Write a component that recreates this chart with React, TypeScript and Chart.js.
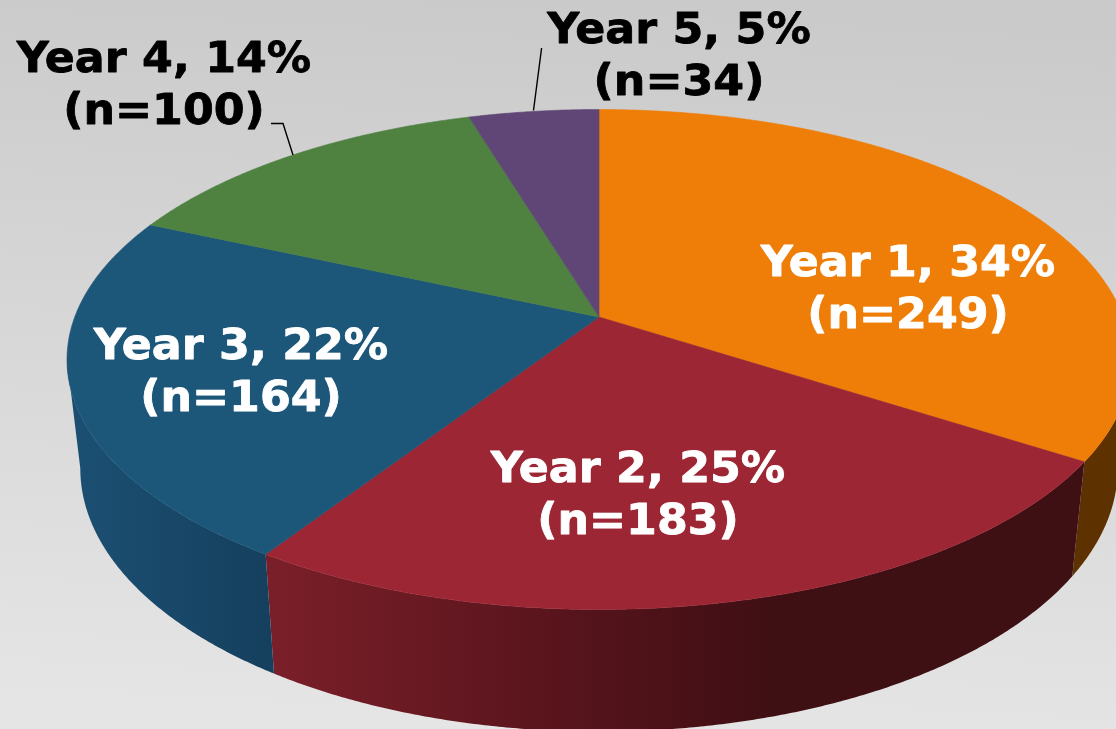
import React, { useEffect, useRef } from "react";
import { Chart, PieController, ArcElement } from "chart.js";

const categories = ["Year 1", "Year 2", "Year 3", "Year 4", "Year 5"];
const counts = [249, 183, 164, 100, 34];
const percents = [34, 25, 22, 14, 5];
const topColors = ["#ef7e08", "#9c2634", "#1c5779", "#4f8241", "#5f4676"];

const labelColors = ["#ffffff", "#ffffff", "#ffffff", "#000000", "#000000"];
const labelCenters = [
  [908, 275.5],
  [638, 482],
  [241, 359],
  [164, 72],
  [679, 43],
];
const wallStops: [number, string][][] = [
  [[1000, "#5e3100"], [1116, "#5e3100"]],
  [[273, "#7a1f29"], [560, "#58141c"], [780, "#3e0f13"], [1080, "#3e0f13"]],
  [[80, "#1b4f72"], [275, "#153f5d"]],
  [],
  [],
];

const W = 1116;
const H = 729;
const CX = 599;
const CY = 359.5;
const RX = 532;
const RY = 250;
const APEX = -0.17;
const LEFT_LIMIT = (260.2 * Math.PI) / 180;
const RIGHT_LIMIT = (99.8 * Math.PI) / 180;
const TEXT_STRETCH = 1.055;

// perspective projection of the pie's rim (theta clockwise from the top)
function rim(theta: number): [number, number] {
  const x = Math.sin(theta);
  const v = -Math.cos(theta);
  const d = 1 + APEX * v;
  const px = (x * Math.sqrt(1 - APEX * APEX)) / d;
  const py = (v + APEX) / d;
  return [CX + px * RX, CY + py * RY];
}
function apex(): [number, number] {
  return [CX, CY + APEX * RY];
}
function lower(p: [number, number]): [number, number] {
  return [CX + (p[0] - CX) * 0.975, p[1] + 114.3 + 0.0526 * (p[1] - 460)];
}
const toTheta = (a: number) => a + Math.PI / 2;

ArcElement.prototype.draw = function (ctx: CanvasRenderingContext2D) {
  const t0 = toTheta(this.startAngle);
  const t1 = toTheta(this.endAngle);
  const color = this.options.backgroundColor;
  ctx.save();
  ctx.beginPath();
  const a = apex();
  ctx.moveTo(a[0], a[1]);
  const n = Math.max(2, Math.ceil((t1 - t0) / 0.006));
  for (let i = 0; i <= n; i++) {
    const p = rim(t0 + ((t1 - t0) * i) / n);
    ctx.lineTo(p[0], p[1]);
  }
  ctx.closePath();
  ctx.fillStyle = color;
  ctx.fill();
  ctx.strokeStyle = color;
  ctx.lineWidth = 0.6;
  ctx.stroke();
  ctx.restore();
};

const pie3d = {
  id: "pie3d",
  beforeDraw(chart: Chart) {
    const ctx = chart.ctx;
    const g = ctx.createLinearGradient(580, 0, 540, H);
    g.addColorStop(0, "#cacaca");
    g.addColorStop(1, "#e5e5e5");
    ctx.save();
    ctx.fillStyle = g;
    ctx.fillRect(0, 0, W, H);
    ctx.restore();
  },
  beforeDatasetsDraw(chart: Chart) {
    const ctx = chart.ctx;
    const arcs = chart.getDatasetMeta(0).data as any[];
    arcs.forEach((arc, idx) => {
      const stops = wallStops[idx];
      if (!stops.length) return;
      const t0 = Math.max(toTheta(arc.startAngle), RIGHT_LIMIT);
      const t1 = Math.min(toTheta(arc.endAngle), LEFT_LIMIT);
      if (t1 <= t0) return;
      const g = ctx.createLinearGradient(0, 0, W, 0);
      stops.forEach(([x, c]) => g.addColorStop(x / W, c));
      const n = Math.ceil((t1 - t0) / 0.006);
      ctx.save();
      ctx.beginPath();
      for (let i = 0; i <= n; i++) {
        const p = rim(t0 + ((t1 - t0) * i) / n);
        if (i === 0) ctx.moveTo(p[0], p[1]);
        else ctx.lineTo(p[0], p[1]);
      }
      for (let i = n; i >= 0; i--) {
        const p = lower(rim(t0 + ((t1 - t0) * i) / n));
        ctx.lineTo(p[0], p[1]);
      }
      ctx.closePath();
      ctx.fillStyle = g;
      ctx.fill();
      ctx.restore();
    });
  },
  afterDatasetsDraw(chart: Chart) {
    const ctx = chart.ctx;
    ctx.save();
    ctx.strokeStyle = "#000000";
    ctx.lineWidth = 1.4;
    ctx.beginPath();
    ctx.moveTo(541.6, 48);
    ctx.lineTo(533.5, 110.5);
    ctx.moveTo(271, 123.5);
    ctx.lineTo(283, 123.5);
    ctx.lineTo(293, 155);
    ctx.stroke();
    ctx.font = 'bold 42px "DejaVu Sans"';
    ctx.textAlign = "center";
    ctx.textBaseline = "alphabetic";
    ctx.lineJoin = "round";
    ctx.lineWidth = 0.8;
    categories.forEach((cat, i) => {
      const [x, y] = labelCenters[i];
      ctx.fillStyle = labelColors[i];
      ctx.strokeStyle = labelColors[i];
      [`${cat}, ${percents[i]}%`, `(n=${counts[i]})`].forEach((line, k) => {
        ctx.save();
        ctx.translate(x, y + k * 52);
        ctx.scale(TEXT_STRETCH, 1);
        ctx.fillText(line, 0, 0);
        ctx.strokeText(line, 0, 0);
        ctx.restore();
      });
    });
    ctx.restore();
  },
};

Chart.register(PieController, ArcElement);

export default function App() {
  const ref = useRef<HTMLCanvasElement>(null);
  useEffect(() => {
    const chart = new Chart(ref.current!, {
      type: "pie",
      data: {
        labels: categories,
        datasets: [{ data: counts, backgroundColor: topColors, borderWidth: 0 }],
      },
      options: {
        animation: false,
        responsive: false,
        plugins: { legend: { display: false }, tooltip: { enabled: false } },
      },
      plugins: [pie3d],
    } as any);
    return () => chart.destroy();
  }, []);
  return (
    <div style={{ position: "fixed", left: 0, top: 0, width: W, height: H }}>
      <canvas ref={ref} width={W} height={H} style={{ display: "block", width: W, height: H }} />
    </div>
  );
}
